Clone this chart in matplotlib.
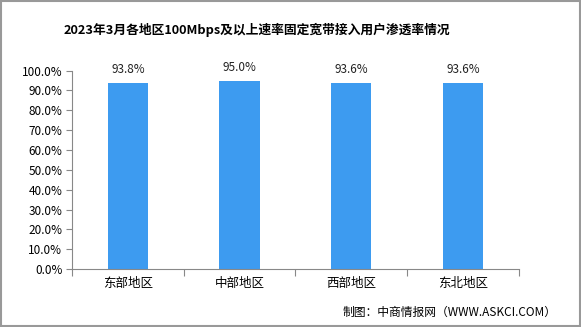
import matplotlib.pyplot as plt
from matplotlib.patches import Rectangle

plt.rcParams['font.family'] = ['Noto Sans CJK SC', 'DejaVu Sans']

regions = ['东部地区', '中部地区', '西部地区', '东北地区']
rates = [93.8, 95.0, 93.6, 93.6]
yticks = [0, 10, 20, 30, 40, 50, 60, 70, 80, 90, 100]

fig = plt.figure(figsize=(5.81, 3.27), dpi=100)
ax = fig.add_axes([0.124, 0.177, 0.769, 0.607])

x = range(len(regions))
ax.bar(x, rates, width=0.36, color='#3D9BF0')
for i, v in zip(x, rates):
    ax.text(i, v + 3.5, f'{v:.1f}%', ha='center', va='bottom', fontsize=8.5, color='#222222')

ax.set_xlim(-0.5, len(regions) - 0.5)
ax.set_ylim(0, 100)
ax.set_yticks(yticks)
ax.set_yticklabels([f'{t:.1f}%' for t in yticks], fontsize=8.5)
ax.set_xticks([i - 0.5 for i in range(len(regions) + 1)], minor=False)
ax.set_xticklabels([''] * (len(regions) + 1))
ax.set_xticks(list(x), minor=True)
ax.set_xticklabels(regions, minor=True, fontsize=9)
ax.tick_params(axis='x', which='minor', length=0, pad=6)
ax.tick_params(axis='x', which='major', length=5, color='#888888', direction='out')
ax.tick_params(axis='y', length=4, color='#888888', direction='out', pad=3)

for s in ['top', 'right']:
    ax.spines[s].set_visible(False)
for s in ['left', 'bottom']:
    ax.spines[s].set_color('#888888')

fig.text(0.443, 0.908, '2023年3月各地区100Mbps及以上速率固定宽带接入用户渗透率情况',
         ha='center', va='center', fontsize=9.2, fontweight='bold')
fig.text(0.958, 0.045, '制图：中商情报网（WWW.ASKCI.COM）', ha='right', va='center', fontsize=8.5)

fig.patches.append(Rectangle((0.001, 0.002), 0.997, 0.995, transform=fig.transFigure,
                             fill=False, edgecolor='#999999', linewidth=1.5))

fig.savefig('out.png', dpi=100)
